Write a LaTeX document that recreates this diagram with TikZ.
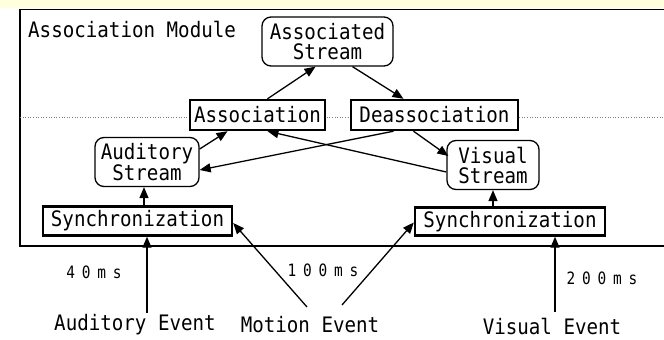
\documentclass[tikz,border=0pt]{standalone}
\usepackage{fontspec}
\setmonofont[FakeStretch=0.9]{DejaVu Sans Mono}
\newfontfamily\msfont[FakeStretch=0.85]{DejaVu Sans Mono}
\usetikzlibrary{arrows.meta,calc}
\definecolor{strip}{RGB}{255,255,222}
\newcommand\wide[1]{\makebox[15.5pt][c]{#1}}
\begin{document}
\begin{tikzpicture}[x=1pt,y=-1pt,
  every node/.style={font=\ttfamily\fontsize{21.3}{20}\selectfont, inner sep=0pt},
  proc/.style={draw, line width=2.4pt, fill=white},
  stream/.style={draw, line width=1.3pt, rounded corners=9pt, fill=white, align=center},
  lbl/.style={font=\msfont\fontsize{17}{18}\selectfont},
  arr/.style={line width=1.3pt, -{Triangle[length=11pt,width=9pt]}}]
\useasboundingbox (0,0) rectangle (664,340);
\fill[strip] (0,0) rectangle (664,7.5);

% module frame (open to the right) and the dotted divider
\draw[line width=1.3pt] (664,9.5) -- (20,9.5) -- (20,246) -- (664,246);
\draw[gray, line width=0.6pt, dotted] (20,117) -- (664,117);
\node[anchor=west] (modlabel) at (28,30) {Association Module};

% stream and process boxes
\node[stream, minimum width=131pt, minimum height=49pt] (assocstream) at (327.5,41.5) {Associated\\Stream};
\node[proc, minimum width=135pt, minimum height=30pt] (assoc) at (257.5,115) {Association};
\node[proc, minimum width=167pt, minimum height=30pt] (deassoc) at (434.5,115) {Deassociation};
\node[stream, minimum width=104pt, minimum height=49pt] (audstream) at (147,162) {Auditory\\Stream};
\node[stream, minimum width=92pt, minimum height=49pt] (visstream) at (493,165) {Visual\\Stream};
\node[proc, minimum width=189pt, minimum height=29pt] (syncL) at (137.5,221) {Synchronization};
\node[proc, minimum width=190pt, minimum height=28pt] (syncR) at (510,221.5) {Synchronization};

% inputs below the module
\node (audev) at (135,325) {Auditory Event};
\node (motev) at (310,325) {Motion Event};
\node (visev) at (552,326) {Visual Event};
\node[lbl] (t40) at (94,272) {\wide{4}\wide{0}\wide{m}\wide{s}};
\node[lbl] (t100) at (323,270) {\wide{1}\wide{0}\wide{0}\wide{m}\wide{s}};
\node[lbl] (t200) at (602,278) {\wide{2}\wide{0}\wide{0}\wide{m}\wide{s}};

% connectors inside the module
\draw[arr] ([xshift=10pt]assoc.north) -- ([xshift=-12pt]assocstream.south);
\draw[arr] ([xshift=25pt]assocstream.south) -- ([xshift=-31pt]deassoc.north);
\draw[arr] ([xshift=-41pt]deassoc.south) -- ([yshift=-8pt]audstream.east);
\draw[arr] ([yshift=-7pt]visstream.west) -- ([xshift=10pt]assoc.south);
\draw[arr] ([xshift=-21pt]deassoc.south) -- ([yshift=9pt,xshift=2pt]visstream.west);
\draw[arr] ([yshift=13pt]audstream.east) -- ([xshift=-30pt]assoc.south);
\draw[arr] ([xshift=6.5pt]syncL.north) -- ([xshift=6.5pt]syncL.north |- audstream.south);
\draw[arr] (visstream.south |- syncR.north) -- (visstream.south);

% event inputs
\coordinate (audin) at (147,313);
\coordinate (motinL) at (307,307);
\coordinate (motinR) at (342,305);
\coordinate (visin) at (555,312);
\draw[arr] (audin) -- (audin |- syncL.south);
\draw[arr] (motinL) -- ([yshift=-2pt]syncL.east);
\draw[arr] (motinR) -- ([yshift=-1pt]syncR.west);
\draw[arr] (visin) -- (visin |- syncR.south);
\end{tikzpicture}
\end{document}
